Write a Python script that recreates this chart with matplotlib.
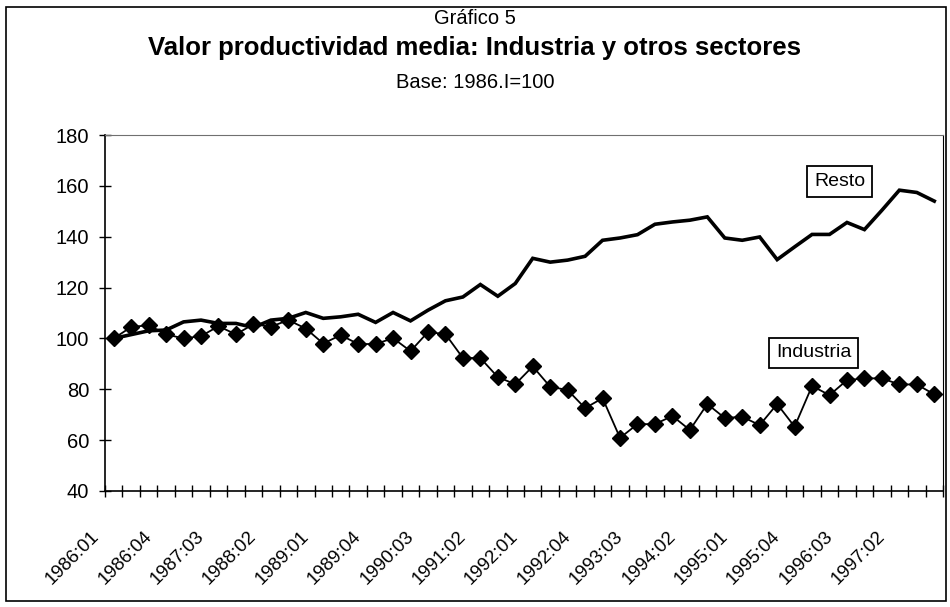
import matplotlib.pyplot as plt
import matplotlib.transforms as mtransforms
from matplotlib.patches import Rectangle

plt.rcParams['font.family'] = ['Liberation Sans', 'DejaVu Sans']

# quarterly categories 1986:01 .. 1997:04
quarters = ['%d:%02d' % (y, q) for y in range(1986, 1998) for q in range(1, 5)]

industria = [100, 104.5, 105.2, 101.6, 100, 100.9, 104.8, 101.6, 105.6, 104.6,
             107.2, 103.9, 98, 101.3, 97.8, 97.8, 100.1, 95, 102.5, 101.7,
             92.3, 92.3, 84.8, 82, 89, 81, 79.7, 72.6, 76.5, 60.9,
             66.3, 66.3, 69.5, 64, 74.2, 68.7, 69.2, 65.9, 74.2, 65.3,
             81.3, 77.7, 83.6, 84.3, 84.3, 81.9, 81.9, 78]

resto = [100, 101.5, 103, 103.3, 106.5, 107.2, 105.9, 105.9, 104.3, 107.2,
         107.9, 110.2, 107.9, 108.5, 109.5, 106.3, 110.2, 106.9, 111.1, 114.8,
         116.3, 121.2, 116.6, 121.6, 131.5, 130, 130.8, 132.3, 138.6, 139.5,
         140.8, 144.9, 145.8, 146.5, 147.8, 139.5, 138.6, 139.9, 131, 136,
         140.9, 140.9, 145.6, 142.8, 150.4, 158.3, 157.4, 154]

x = list(range(len(quarters)))
label_idx = list(range(0, 46, 3))

fig = plt.figure(figsize=(9.5, 6.07), dpi=100)
fig.patches.append(Rectangle((6/950, 6/607), 940/950, 594/607, transform=fig.transFigure,
                             fill=False, edgecolor='black', linewidth=1.2))

ax = fig.add_axes([105/950, 1 - 491/607, 838/950, 356/607])

ax.plot(x, resto, color='black', linewidth=2.6, solid_joinstyle='miter')
ax.plot(x, industria, color='black', linewidth=1.3, marker='D', markersize=8.5)

ax.set_xlim(-0.5, len(x) - 0.5)
ax.set_ylim(40, 180)
ax.set_yticks(range(40, 181, 20))
ax.tick_params(axis='y', direction='inout', length=9, width=1, pad=7, labelsize=14.5)

# tick marks between categories, labels on every third category
ax.set_xticks([i - 0.5 for i in range(len(x) + 1)])
ax.set_xticklabels([])
ax.tick_params(axis='x', which='major', direction='inout', length=9, width=1)
ax.set_xticks(label_idx, [quarters[i] for i in label_idx], minor=True)
ax.tick_params(axis='x', which='minor', length=0, pad=31, labelsize=13.5)
shift = mtransforms.ScaledTranslation(-17/100, 0, fig.dpi_scale_trans)
for lab in ax.get_xticklabels(minor=True):
    lab.set_rotation(45)
    lab.set_ha('right')
    lab.set_va('center')
    lab.set_rotation_mode('anchor')
    lab.set_transform(lab.get_transform() + shift)

for side in ['left', 'bottom']:
    ax.spines[side].set_linewidth(1.2)
ax.spines['top'].set_color('#707070')
ax.spines['right'].set_color('black')

ax.text(41.57, 161.7, 'Resto', fontsize=14, ha='center', va='center',
        bbox=dict(boxstyle='square,pad=0.35', facecolor='white', edgecolor='black', linewidth=1.3))
ax.text(40.08, 94.3, 'Industria', fontsize=14, ha='center', va='center',
        bbox=dict(boxstyle='square,pad=0.35', facecolor='white', edgecolor='black', linewidth=1.3))

fig.text(0.5, 1 - 18/607, 'Gráfico 5', ha='center', va='center', fontsize=14.5)
fig.text(0.5, 1 - 48/607, 'Valor productividad media: Industria y otros sectores',
         ha='center', va='center', fontsize=18.5, fontweight='bold')
fig.text(0.5, 1 - 82/607, 'Base: 1986.I=100', ha='center', va='center', fontsize=14.5)

fig.savefig('out.png', dpi=100)
